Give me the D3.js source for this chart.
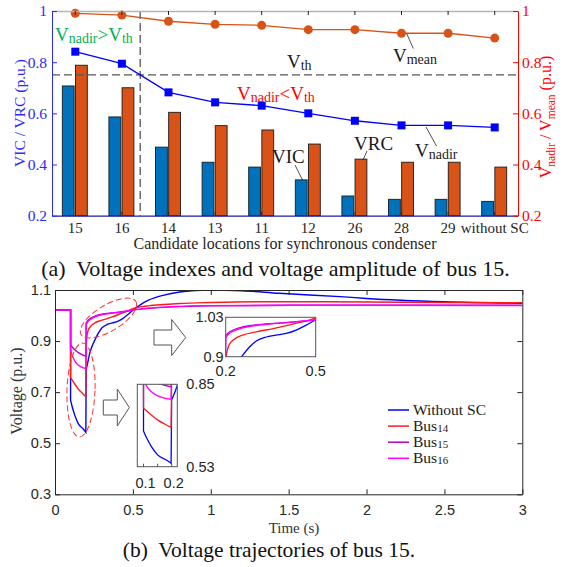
<!DOCTYPE html>
<html>
<head>
<meta charset="utf-8">
<script src="https://cdn.jsdelivr.net/npm/d3@7"></script>
<style>
  body { margin: 0; background: #fff; }
  svg { display: block; }
  text { white-space: pre; }
</style>
</head>
<body>
<div id="chart"></div>
<script>
// ---- (a) voltage indexes per candidate location ----
const locations = ['15', '16', '14', '13', '11', '12', '26', '28', '29', 'without SC']
const vic = [0.707, 0.586, 0.468, 0.409, 0.39, 0.34, 0.277, 0.264, 0.264, 0.256]
const vrc = [0.788, 0.7, 0.604, 0.552, 0.535, 0.48, 0.421, 0.409, 0.409, 0.39]
const vnadir = [0.841, 0.794, 0.682, 0.643, 0.63, 0.6, 0.571, 0.553, 0.553, 0.545]
const vmean = [0.991, 0.984, 0.96, 0.948, 0.944, 0.927, 0.927, 0.913, 0.913, 0.894]
const vth = 0.75
const indexTicks = [0.2, 0.4, 0.6, 0.8, 1]

// ---- (b) voltage trajectories of bus 15, [time, voltage] ----
const preFault = [[0, 1.022], [0.1, 1.022]]
const withoutSC = [
  preFault,
  [[0.1, 0.669], [0.11, 0.644], [0.128, 0.608], [0.151, 0.575], [0.181, 0.556], [0.198, 0.543]],
  [[0.2, 0.79], [0.21, 0.815], [0.22, 0.845], [0.235, 0.875], [0.253, 0.9], [0.28, 0.933], [0.302, 0.952],
   [0.335, 0.965], [0.368, 0.971], [0.402, 0.977], [0.435, 0.988], [0.468, 1.004], [0.5, 1.021], [0.55, 1.043],
   [0.6, 1.06], [0.7, 1.08], [0.8, 1.092], [0.9, 1.098], [1.0, 1.1], [1.2, 1.097], [1.44, 1.087], [1.83, 1.074],
   [2.0, 1.067], [2.5, 1.054], [3, 1.048]]
]
const bus14 = [
  preFault,
  [[0.1, 0.757], [0.128, 0.731], [0.151, 0.711], [0.175, 0.696], [0.198, 0.683]],
  [[0.2, 0.89], [0.205, 0.92], [0.212, 0.94], [0.225, 0.955], [0.259, 0.972], [0.302, 0.982], [0.358, 0.993],
   [0.413, 1.005], [0.468, 1.018], [0.5, 1.027], [0.55, 1.034], [0.6, 1.038], [0.7, 1.043], [0.8, 1.047],
   [1.0, 1.051], [1.3, 1.054], [1.6, 1.054], [2, 1.053], [2.5, 1.051], [3, 1.05]]
]
const bus15 = [
  preFault,
  [[0.1, 0.885], [0.12, 0.87], [0.15, 0.855], [0.198, 0.84]],
  [[0.2, 0.97], [0.21, 0.98], [0.225, 0.988], [0.26, 0.999], [0.3, 1.005], [0.36, 1.01], [0.41, 1.013],
   [0.47, 1.018], [0.5, 1.021], [0.6, 1.028], [0.75, 1.034], [1.0, 1.038], [1.5, 1.04], [2, 1.04], [3, 1.04]]
]
const bus16 = [
  preFault,
  [[0.1, 0.865], [0.11, 0.845], [0.128, 0.821], [0.151, 0.805], [0.198, 0.792]],
  [[0.2, 0.963], [0.21, 0.975], [0.225, 0.984], [0.26, 0.996], [0.3, 1.003], [0.36, 1.009], [0.41, 1.013],
   [0.47, 1.019], [0.5, 1.022], [0.6, 1.029], [0.75, 1.035], [1.0, 1.039], [1.5, 1.04], [2, 1.04], [3, 1.039]]
]
const seriesNames = ['Without SC', 'Bus14', 'Bus15', 'Bus16']
const seriesColors = ['#0000ff', '#ff1a1a', '#b000c8', '#ff00ff']
const timeTicks = [0, 0.5, 1, 1.5, 2, 2.5, 3]
const voltTicks = [0.3, 0.5, 0.7, 0.9, 1.1]

const serif = "'Liberation Serif', 'Times New Roman', Times, 'DejaVu Serif', serif"
const sans = "'Liberation Sans', Arial, Helvetica, sans-serif"

const svg = d3
  .select('#chart')
  .append('svg')
  .attr('width', 563)
  .attr('height', 567)
  .attr('font-family', serif)

// text with small lowered subscripts: parts = [[string, isSub], ...]
function richText(sel, parts, o) {
  const t = sel
    .append('text')
    .attr('font-family', serif)
    .attr('fill', o.color || '#1a1a1a')
    .attr('font-size', o.size)
  if (o.transform) t.attr('transform', o.transform)
  else t.attr('x', o.x).attr('y', o.y)
  if (o.anchor) t.attr('text-anchor', o.anchor)
  let shift = 0
  parts.forEach(([s, sub]) => {
    const drop = sub ? o.drop : 0
    t.append('tspan')
      .attr('dy', drop - shift)
      .attr('font-size', sub ? o.subSize : null)
      .text(s)
    shift = drop
  })
  return t
}

function styleAxis(g, color, size, family) {
  g.attr('color', color)
  g.selectAll('text').attr('font-family', family).attr('font-size', size)
}

// ================= (a) =================
const pa = { left: 52, right: 518, top: 11, bottom: 215.7 }
const gA = svg.append('g')

const x = d3.scaleBand().domain(locations).range([pa.left, pa.right])
const xc = d => x(d) + x.bandwidth() / 2
const x1 = d3.scaleBand().domain(['VIC', 'VRC']).range([-13, 12]).paddingInner(0.1)
const yL = d3.scaleLinear().domain([0.2, 1]).range([pa.bottom, pa.top])
const yR = d3.scaleLinear().domain([0.2, 1]).range([pa.bottom, pa.top])

const barData = locations.flatMap((loc, i) => [
  { loc, key: 'VIC', v: vic[i] },
  { loc, key: 'VRC', v: vrc[i] }
])
gA.selectAll('.bar')
  .data(barData)
  .join('rect')
  .attr('class', 'bar')
  .attr('x', d => xc(d.loc) + x1(d.key))
  .attr('y', d => yL(d.v))
  .attr('width', x1.bandwidth())
  .attr('height', d => yL(0.2) - yL(d.v))
  .attr('fill', d => (d.key === 'VIC' ? '#0072bd' : '#d95319'))
  .attr('stroke', '#1a1a1a')
  .attr('stroke-width', 0.9)

// threshold lines
gA.append('line')
  .attr('x1', pa.left).attr('x2', pa.right)
  .attr('y1', yR(vth)).attr('y2', yR(vth))
  .attr('stroke', '#555').attr('stroke-width', 1.3).attr('stroke-dasharray', '8,4')

const cross = vnadir.findIndex(v => v < vth)
const frac = (vnadir[cross - 1] - vth) / (vnadir[cross - 1] - vnadir[cross])
const xCross = xc(locations[cross - 1]) + frac * (xc(locations[cross]) - xc(locations[cross - 1]))
gA.append('line')
  .attr('x1', xCross).attr('x2', xCross)
  .attr('y1', pa.top).attr('y2', pa.bottom)
  .attr('stroke', '#555').attr('stroke-width', 1.3).attr('stroke-dasharray', '8,4')

// Vmean and Vnadir lines
const lineA = d3.line().x((d, i) => xc(locations[i])).y(d => yR(d))
gA.append('path')
  .attr('d', lineA(vmean))
  .attr('fill', 'none').attr('stroke', '#d95319').attr('stroke-width', 1.3)
gA.selectAll('.mean-dot')
  .data(vmean)
  .join('circle')
  .attr('cx', (d, i) => xc(locations[i]))
  .attr('cy', d => yR(d))
  .attr('r', 4.5)
  .attr('fill', '#d95319')
gA.append('path')
  .attr('d', lineA(vnadir))
  .attr('fill', 'none').attr('stroke', '#0000ff').attr('stroke-width', 1.3)
gA.selectAll('.nadir-sq')
  .data(vnadir)
  .join('rect')
  .attr('x', (d, i) => xc(locations[i]) - 4)
  .attr('y', d => yR(d) - 4)
  .attr('width', 8).attr('height', 8)
  .attr('fill', '#0000ff')

// axes
const axTop = gA.append('g').attr('transform', `translate(0,${pa.top})`)
  .call(d3.axisTop(x).tickSizeInner(-4).tickSizeOuter(0).tickFormat(''))
axTop.select('.domain').attr('stroke', '#b5b5b5').attr('stroke-width', 1.5)
axTop.selectAll('.tick line').attr('stroke', '#222')

const axBottom = gA.append('g').attr('transform', `translate(0,${pa.bottom})`)
  .call(d3.axisBottom(x).tickSizeInner(-4).tickSizeOuter(0).tickPadding(7))
styleAxis(axBottom, '#262626', 15, serif)
axBottom.select('.domain').attr('stroke', '#1c1ca8').attr('stroke-width', 1.2)

const axLeft = gA.append('g').attr('transform', `translate(${pa.left},0)`)
  .call(d3.axisLeft(yL).tickValues(indexTicks).tickSizeInner(-5).tickSizeOuter(0).tickPadding(5).tickFormat(d3.format('~g')))
styleAxis(axLeft, '#2a2aff', 15.5, serif)

const axRight = gA.append('g').attr('transform', `translate(${pa.right},0)`)
  .call(d3.axisRight(yR).tickValues(indexTicks).tickSizeInner(-5).tickSizeOuter(0).tickPadding(4).tickFormat(d3.format('~g')))
styleAxis(axRight, '#ff0000', 15.5, serif)

// axis titles
gA.append('text')
  .attr('transform', 'translate(25,113) rotate(-90)')
  .attr('text-anchor', 'middle')
  .attr('fill', '#2a2aff')
  .attr('font-size', 15.5)
  .text('VIC / VRC (p.u.)')
richText(gA, [['V', false], ['nadir', true], [' / V', false], ['mean', true], [' (p.u.)', false]], {
  transform: 'translate(551,117) rotate(-90)', anchor: 'middle', color: '#ff0000', size: 16, subSize: 11.5, drop: 4
})
gA.append('text')
  .attr('x', 285).attr('y', 249)
  .attr('text-anchor', 'middle')
  .attr('fill', '#262626')
  .attr('font-size', 16)
  .text('Candidate locations for synchronous condenser')

// annotations
const sub = { size: 19, subSize: 14, drop: 2 }
richText(gA, [['V', false], ['nadir', true], ['>V', false], ['th', true]], { ...sub, x: 55, y: 41, color: '#00b050' })
richText(gA, [['V', false], ['th', true]], { ...sub, x: 287, y: 68 })
richText(gA, [['V', false], ['nadir', true], ['<V', false], ['th', true]], { ...sub, x: 237, y: 100, color: '#ff0000' })
richText(gA, [['V', false], ['mean', true]], { ...sub, x: 393, y: 62 })
richText(gA, [['V', false], ['nadir', true]], { ...sub, x: 415, y: 157 })
gA.append('text').attr('x', 354).attr('y', 150).attr('font-size', 19).attr('fill', '#1a1a1a').text('VRC')
gA.append('text').attr('x', 272).attr('y', 163).attr('font-size', 19).attr('fill', '#1a1a1a').text('VIC')
const leaders = [[406.7, 33.5, 413.3, 48.5], [426, 127, 436.5, 146], [367, 151, 363, 160], [295, 165, 302.5, 180]]
gA.selectAll('.leader')
  .data(leaders)
  .join('line')
  .attr('x1', d => d[0]).attr('y1', d => d[1])
  .attr('x2', d => d[2]).attr('y2', d => d[3])
  .attr('stroke', '#222').attr('stroke-width', 0.8)

gA.append('text')
  .attr('x', 275.5).attr('y', 276)
  .attr('text-anchor', 'middle')
  .attr('font-size', 22)
  .attr('fill', '#111')
  .text('(a)  Voltage indexes and voltage amplitude of bus 15.')

// ================= (b) =================
const pb = { left: 55, right: 522.3, top: 290, bottom: 494.3 }
const gB = svg.append('g')
const xt = d3.scaleLinear().domain([0, 3]).range([pb.left, pb.right])
const yv = d3.scaleLinear().domain([0.3, 1.1]).range([pb.bottom, pb.top])
const allSeries = [withoutSC, bus14, bus15, bus16]

// joins segments with a vertical jump between them
function trajectoryPath(segments, sx, sy) {
  const line = d3.line().x(d => sx(d[0])).y(d => sy(d[1])).curve(d3.curveMonotoneX)
  return segments.map((s, i) => (i ? 'L' + line(s).slice(1) : line(s))).join('')
}

svg.append('defs').append('clipPath').attr('id', 'clip-b')
  .append('rect')
  .attr('x', pb.left).attr('y', pb.top)
  .attr('width', pb.right - pb.left).attr('height', pb.bottom - pb.top)

gB.append('g').attr('clip-path', 'url(#clip-b)')
  .selectAll('path')
  .data(allSeries)
  .join('path')
  .attr('d', d => trajectoryPath(d, xt, yv))
  .attr('fill', 'none')
  .attr('stroke', (d, i) => seriesColors[i])
  .attr('stroke-width', 1.4)

const axB = gB.append('g').attr('transform', `translate(0,${pb.bottom})`)
  .call(d3.axisBottom(xt).tickValues(timeTicks).tickSizeInner(-5).tickSizeOuter(0).tickPadding(10).tickFormat(d3.format('~g')))
styleAxis(axB, '#262626', 14.5, sans)
gB.append('g').attr('transform', `translate(0,${pb.top})`)
  .call(d3.axisTop(xt).tickValues(timeTicks).tickSizeInner(-5).tickSizeOuter(0).tickFormat(''))
  .attr('color', '#262626')
const axL = gB.append('g').attr('transform', `translate(${pb.left},0)`)
  .call(d3.axisLeft(yv).tickValues(voltTicks).tickSizeInner(-5).tickSizeOuter(0).tickPadding(4).tickFormat(d3.format('~g')))
styleAxis(axL, '#262626', 14.5, sans)
gB.append('g').attr('transform', `translate(${pb.right},0)`)
  .call(d3.axisRight(yv).tickValues(voltTicks).tickSizeInner(-5).tickSizeOuter(0).tickFormat(''))
  .attr('color', '#262626')

gB.append('text')
  .attr('transform', 'translate(22,391) rotate(-90)')
  .attr('text-anchor', 'middle')
  .attr('font-size', 16)
  .attr('fill', '#333')
  .text('Voltage (p.u.)')
gB.append('text')
  .attr('x', 294).attr('y', 533)
  .attr('text-anchor', 'middle')
  .attr('font-size', 15)
  .attr('fill', '#333')
  .text('Time (s)')

// dashed ellipses around the zoomed parts
const ellipses = [[81, 390, 14, 47, 2], [108.5, 318, 32, 13, -31]]
gB.selectAll('.ring')
  .data(ellipses)
  .join('ellipse')
  .attr('transform', d => `translate(${d[0]},${d[1]}) rotate(${d[4]})`)
  .attr('rx', d => d[2]).attr('ry', d => d[3])
  .attr('fill', 'none')
  .attr('stroke', '#ff3030').attr('stroke-width', 1).attr('stroke-dasharray', '6,3')

// hollow block arrows: [x0, xHead, xTip, yCenter, shaftHalf, headHalf]
const arrows = [[154, 171.7, 185.7, 337.5, 7.5, 18], [103.3, 117.3, 129.3, 407.5, 7.5, 18.5]]
gB.selectAll('.arrow')
  .data(arrows)
  .join('polygon')
  .attr('points', d => [
    [d[0], d[3] - d[4]], [d[1], d[3] - d[4]], [d[1], d[3] - d[5]], [d[2], d[3]],
    [d[1], d[3] + d[5]], [d[1], d[3] + d[4]], [d[0], d[3] + d[4]]
  ].join(' '))
  .attr('fill', '#fff').attr('stroke', '#555').attr('stroke-width', 1)

// zoomed insets
const insets = [
  { id: 'ins1', x0: 137.3, x1: 177.3, y0: 384.3, y1: 466.7, t: [0.078, 0.22], v: [0.53, 0.85] },
  { id: 'ins2', x0: 225.7, x1: 315.7, y0: 317.3, y1: 356.7, t: [0.2, 0.5], v: [0.9, 1.03] }
]
insets.forEach(ins => {
  const sx = d3.scaleLinear().domain(ins.t).range([ins.x0, ins.x1])
  const sy = d3.scaleLinear().domain(ins.v).range([ins.y1, ins.y0])
  const g = gB.append('g')
  g.append('rect')
    .attr('x', ins.x0).attr('y', ins.y0)
    .attr('width', ins.x1 - ins.x0).attr('height', ins.y1 - ins.y0)
    .attr('fill', '#fff')
  svg.select('defs').append('clipPath').attr('id', 'clip-' + ins.id)
    .append('rect')
    .attr('x', ins.x0).attr('y', ins.y0)
    .attr('width', ins.x1 - ins.x0).attr('height', ins.y1 - ins.y0)
  g.append('g').attr('clip-path', `url(#clip-${ins.id})`)
    .selectAll('path')
    .data(allSeries)
    .join('path')
    .attr('d', d => trajectoryPath(d, sx, sy))
    .attr('fill', 'none')
    .attr('stroke', (d, i) => seriesColors[i])
    .attr('stroke-width', 1.3)
  g.append('rect')
    .attr('x', ins.x0).attr('y', ins.y0)
    .attr('width', ins.x1 - ins.x0).attr('height', ins.y1 - ins.y0)
    .attr('fill', 'none').attr('stroke', '#555').attr('stroke-width', 1)
  ins.sx = sx
  ins.sy = sy
})

// inset 1 labels (y on the right side)
const in1 = insets[0]
gB.selectAll('.in1-tick')
  .data([0.1, 0.15, 0.2])
  .join('line')
  .attr('x1', d => in1.sx(d)).attr('x2', d => in1.sx(d))
  .attr('y1', in1.y1).attr('y2', in1.y1 - 3)
  .attr('stroke', '#555')
gB.selectAll('.in1-x')
  .data([0.1, 0.2])
  .join('text')
  .attr('x', d => in1.sx(d) + 2).attr('y', 488)
  .attr('text-anchor', 'middle')
  .attr('font-family', sans).attr('font-size', 14.5).attr('fill', '#262626')
  .text(d => d3.format('~g')(d))
gB.selectAll('.in1-y')
  .data(in1.v)
  .join('text')
  .attr('x', in1.x1 + 9).attr('y', d => in1.sy(d) + 5)
  .attr('font-family', sans).attr('font-size', 14.5).attr('fill', '#262626')
  .text(d => d3.format('.2f')(d))

// inset 2 labels (y on the left side)
const in2 = insets[1]
gB.selectAll('.in2-x')
  .data(in2.t)
  .join('text')
  .attr('x', d => in2.sx(d)).attr('y', 376)
  .attr('text-anchor', 'middle')
  .attr('font-family', sans).attr('font-size', 14.5).attr('fill', '#262626')
  .text(d => d3.format('~g')(d))
gB.selectAll('.in2-y')
  .data(in2.v)
  .join('text')
  .attr('x', in2.x0 - 2).attr('y', d => in2.sy(d) + 5)
  .attr('text-anchor', 'end')
  .attr('font-family', sans).attr('font-size', 14.5).attr('fill', '#262626')
  .text(d => d3.format('~g')(d))

// legend
const legend = gB.append('g').attr('transform', 'translate(388,410)')
seriesNames.forEach((name, i) => {
  const row = legend.append('g').attr('transform', `translate(0,${i * 16.1})`)
  row.append('line')
    .attr('x1', 0).attr('x2', 21)
    .attr('stroke', seriesColors[i]).attr('stroke-width', 1.5)
  const m = name.match(/^(\D+)(\d*)$/)
  richText(row, [[m[1], false], [m[2], true]], { x: 25, y: 5, size: 15.5, subSize: 11, drop: 1, color: '#1a1a1a' })
})

gB.append('text')
  .attr('x', 269).attr('y', 557)
  .attr('text-anchor', 'middle')
  .attr('font-size', 21.5)
  .attr('fill', '#111')
  .text('(b)  Voltage trajectories of bus 15.')
</script>
</body>
</html>
